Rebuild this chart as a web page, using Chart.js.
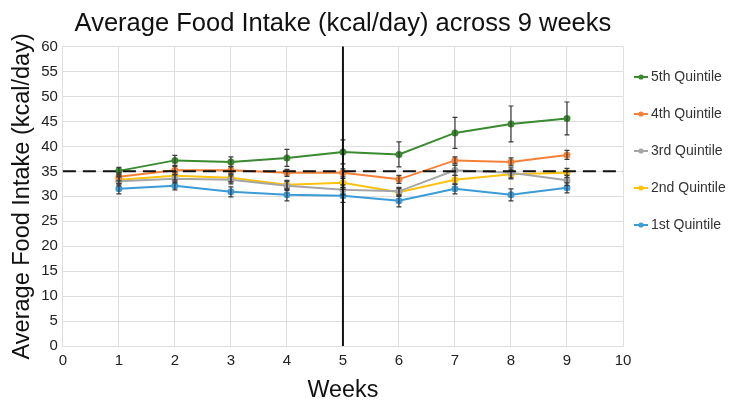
<!DOCTYPE html>
<html>
<head>
<meta charset="utf-8">
<script src="https://cdn.jsdelivr.net/npm/chart.js@4"></script>
<style>
html,body{margin:0;padding:0;background:#fff;}
#wrap{width:730px;height:407px;}
</style>
</head>
<body>
<div id="wrap"><canvas id="c" width="730" height="407"></canvas></div>
<script>
const weeks = [1,2,3,4,5,6,7,8,9];
const seriesNames = ['5th Quintile','4th Quintile','3rd Quintile','2nd Quintile','1st Quintile'];
const q5 = [35.1, 37.2, 36.9, 37.7, 38.9, 38.4, 42.7, 44.5, 45.6];
const q4 = [33.9, 35.2, 35.2, 34.7, 34.7, 33.4, 37.2, 36.9, 38.3];
const q3 = [33.0, 33.5, 33.3, 32.1, 31.3, 31.0, 35.2, 34.7, 33.2];
const q2 = [33.3, 34.1, 33.7, 32.3, 32.7, 30.8, 33.3, 34.4, 34.7];
const q1 = [31.5, 32.1, 30.9, 30.3, 30.1, 29.1, 31.5, 30.3, 31.7];
const q5err = [0.7, 1.0, 1.0, 1.7, 2.4, 2.5, 3.1, 3.6, 3.3];
const q4err = [0.8, 0.8, 0.8, 0.7, 0.8, 0.8, 0.7, 0.8, 0.9];
const q3err = [0.9, 0.8, 0.8, 0.9, 1.0, 0.8, 1.0, 1.0, 1.0];
const q2err = [0.8, 0.8, 0.8, 0.9, 0.9, 0.8, 0.9, 0.9, 0.9];
const q1err = [1.0, 0.8, 1.0, 1.2, 1.3, 1.2, 1.0, 1.2, 1.0];
const refY = 35;
const refX = 5;
const colors = ['#3a8a2f','#f58139','#a5a5a5','#fcc20e','#3a9bd6'];

const values = [q5,q4,q3,q2,q1];
const errs = [q5err,q4err,q3err,q2err,q1err];

const datasets = values.map((v,i)=>({
  label: seriesNames[i],
  data: weeks.map((w,j)=>({x:w,y:v[j]})),
  errors: errs[i],
  borderColor: colors[i],
  backgroundColor: colors[i],
  borderWidth: 2,
  pointRadius: 3.5,
  pointBorderWidth: 0,
  tension: 0,
  order: i
}));

const errorBars = {
  id:'errorBars',
  afterDatasetsDraw(chart){
    const ctx = chart.ctx, ys = chart.scales.y;
    ctx.save();
    ctx.strokeStyle = '#3a3a3a';
    ctx.lineWidth = 1.2;
    chart.data.datasets.forEach((ds,i)=>{
      const meta = chart.getDatasetMeta(i);
      meta.data.forEach((pt,j)=>{
        const v = ds.data[j].y, e = ds.errors[j];
        const top = ys.getPixelForValue(v+e), bot = ys.getPixelForValue(v-e);
        ctx.beginPath();
        ctx.moveTo(pt.x, top); ctx.lineTo(pt.x, bot);
        ctx.moveTo(pt.x-2.5, top); ctx.lineTo(pt.x+2.5, top);
        ctx.moveTo(pt.x-2.5, bot); ctx.lineTo(pt.x+2.5, bot);
        ctx.stroke();
      });
    });
    ctx.restore();
  }
};

const refLines = {
  id:'refLines',
  afterDatasetsDraw(chart){
    const ctx = chart.ctx, xs = chart.scales.x, ys = chart.scales.y, a = chart.chartArea;
    ctx.save();
    ctx.strokeStyle = '#111';
    ctx.lineWidth = 2;
    ctx.setLineDash([13,7]);
    const py = ys.getPixelForValue(refY);
    ctx.beginPath(); ctx.moveTo(a.left, py); ctx.lineTo(a.right, py); ctx.stroke();
    ctx.setLineDash([]);
    const px = xs.getPixelForValue(refX);
    ctx.beginPath(); ctx.moveTo(px, ys.getPixelForValue(ys.max)); ctx.lineTo(px, ys.getPixelForValue(ys.min)); ctx.stroke();
    ctx.restore();
  }
};

const legendIcons = {
  id:'legendIcons',
  afterDraw(chart){
    const lg = chart.legend;
    if (!lg || !lg.legendHitBoxes) return;
    const ctx = chart.ctx;
    ctx.save();
    lg.legendHitBoxes.forEach((hb,i)=>{
      const item = lg.legendItems[i];
      const c = colors[item.datasetIndex];
      const cy = hb.top + hb.height/2;
      const x0 = hb.left, x1 = hb.left + 14;
      ctx.strokeStyle = c; ctx.lineWidth = 2;
      ctx.beginPath(); ctx.moveTo(x0, cy); ctx.lineTo(x1, cy); ctx.stroke();
      ctx.fillStyle = c;
      ctx.beginPath(); ctx.arc((x0+x1)/2, cy, 2.6, 0, Math.PI*2); ctx.fill();
    });
    ctx.restore();
  }
};

const sans = "'Liberation Sans', Arial, sans-serif";

new Chart(document.getElementById('c'), {
  type:'line',
  data:{datasets},
  plugins:[errorBars, refLines, legendIcons],
  options:{
    responsive:false,
    animation:false,
    layout:{padding:{left:8,right:0,top:4,bottom:2}},
    plugins:{
      title:{display:true, text:'Average Food Intake (kcal/day) across 9 weeks', fullSize:false,
        color:'#111', font:{family:sans, size:25.5, weight:'normal'}, padding:{top:5,bottom:7}},
      legend:{position:'right', align:'start', maxWidth:107,
        title:{display:true, text:' ', font:{size:10}, padding:{top:37,bottom:0}},
        labels:{usePointStyle:false, boxWidth:10, boxHeight:26, color:'#333', font:{family:sans,size:14}, padding:11,
          generateLabels(chart){
            return chart.data.datasets.map((ds,i)=>({
              text: ds.label, fillStyle:'rgba(0,0,0,0)', strokeStyle:'rgba(0,0,0,0)',
              lineWidth:0, hidden:false, datasetIndex:i, fontColor:'#333'
            }));
          }}},
      tooltip:{enabled:false}
    },
    scales:{
      x:{type:'linear', min:0, max:10,
        ticks:{stepSize:1, color:'#222', font:{family:sans,size:15}, padding:6},
        grid:{color:'#dedede', drawTicks:false},
        border:{color:'#dedede'},
        title:{display:true, text:'Weeks', color:'#111', font:{family:sans,size:23.3}, padding:{top:1,bottom:0}}},
      y:{min:0, max:60,
        ticks:{stepSize:5, color:'#222', font:{family:sans,size:15}, padding:5},
        grid:{color:'#dedede', drawTicks:false},
        border:{color:'#dedede'},
        title:{display:true, text:'Average Food Intake (kcal/day)', color:'#111', font:{family:sans,size:23.5}, padding:{top:0,bottom:0}}}
    }
  }
});
</script>
</body>
</html>
